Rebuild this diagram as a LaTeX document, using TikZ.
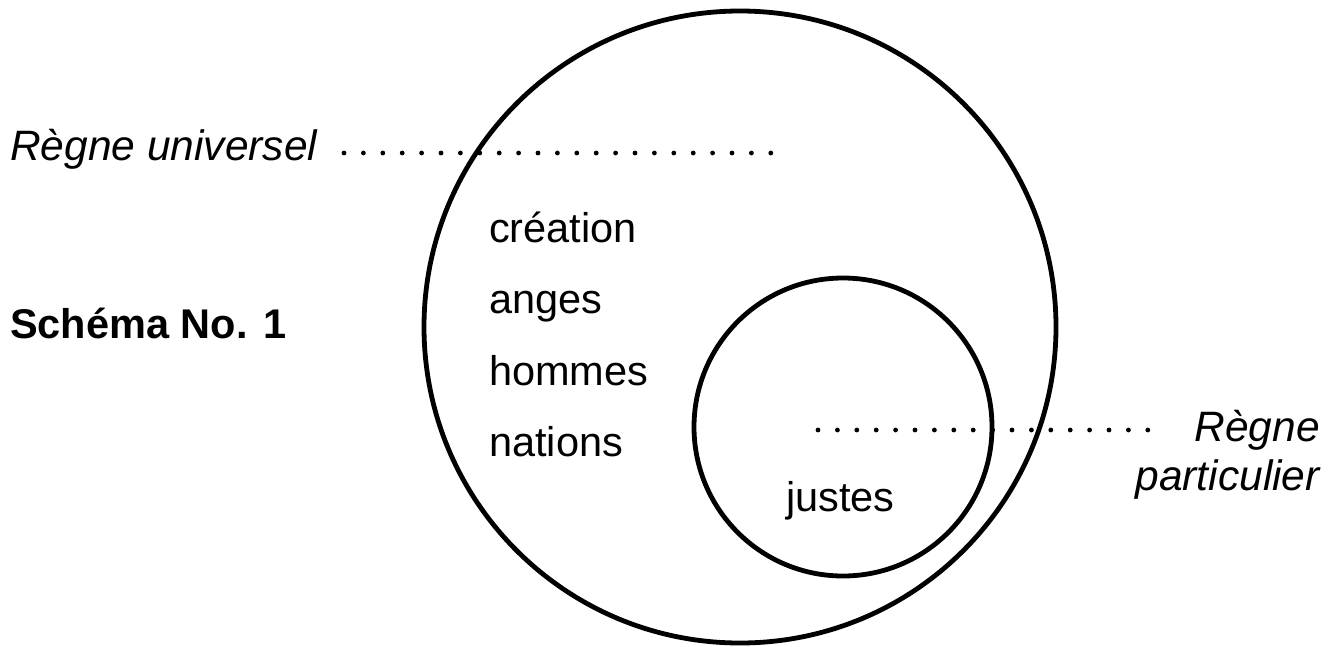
\documentclass[tikz,border=0pt]{standalone}
\usepackage{fontspec}
\setmainfont{Liberation Sans}
\begin{document}
\begin{tikzpicture}[x=1pt,y=-1pt,
  txt/.style={inner sep=0pt,font=\fontsize{41.5}{48}\selectfont},
  lbl/.style={txt,font=\fontsize{42.5}{48}\selectfont\itshape},
  ring/.style={draw,line width=4.8pt},
  dotline/.style={line width=4.8pt,line cap=round,dash pattern=on 0pt off 19.4pt}]
\useasboundingbox (0,0) rectangle (1341,646);
\node[ring,circle,minimum size=632pt,inner sep=0pt] (big) at (740,327) {};
\node[ring,circle,minimum size=298pt,inner sep=0pt] (small) at (843,427) {};
\node[lbl,anchor=base west] (ru) at (10,160) {Règne universel};
\node[txt,font=\fontsize{41.5}{48}\selectfont\bfseries,anchor=base west] (sch) at (10,338) {Schéma No. 1};
\node[txt,anchor=base west] (cre) at (489,242) {création};
\node[txt,anchor=base west] (ang) at (489,313) {anges};
\node[txt,anchor=base west] (hom) at (489,385) {hommes};
\node[txt,anchor=base west] (nat) at (489,456) {nations};
\node[txt,anchor=base west] (jus) at (786,511) {justes};
\node[lbl,anchor=base east] (rp1) at (1320,441) {Règne};
\node[lbl,anchor=base east] (rp2) at (1320,490) {particulier};
\coordinate (a1) at (344,153);
\coordinate (a2) at (772,153);
\coordinate (b1) at (818,430);
\coordinate (b2) at (1160,430);
\draw[dotline] (a1) -- (a2);
\draw[dotline] (b1) -- (b2);
\end{tikzpicture}
\end{document}
